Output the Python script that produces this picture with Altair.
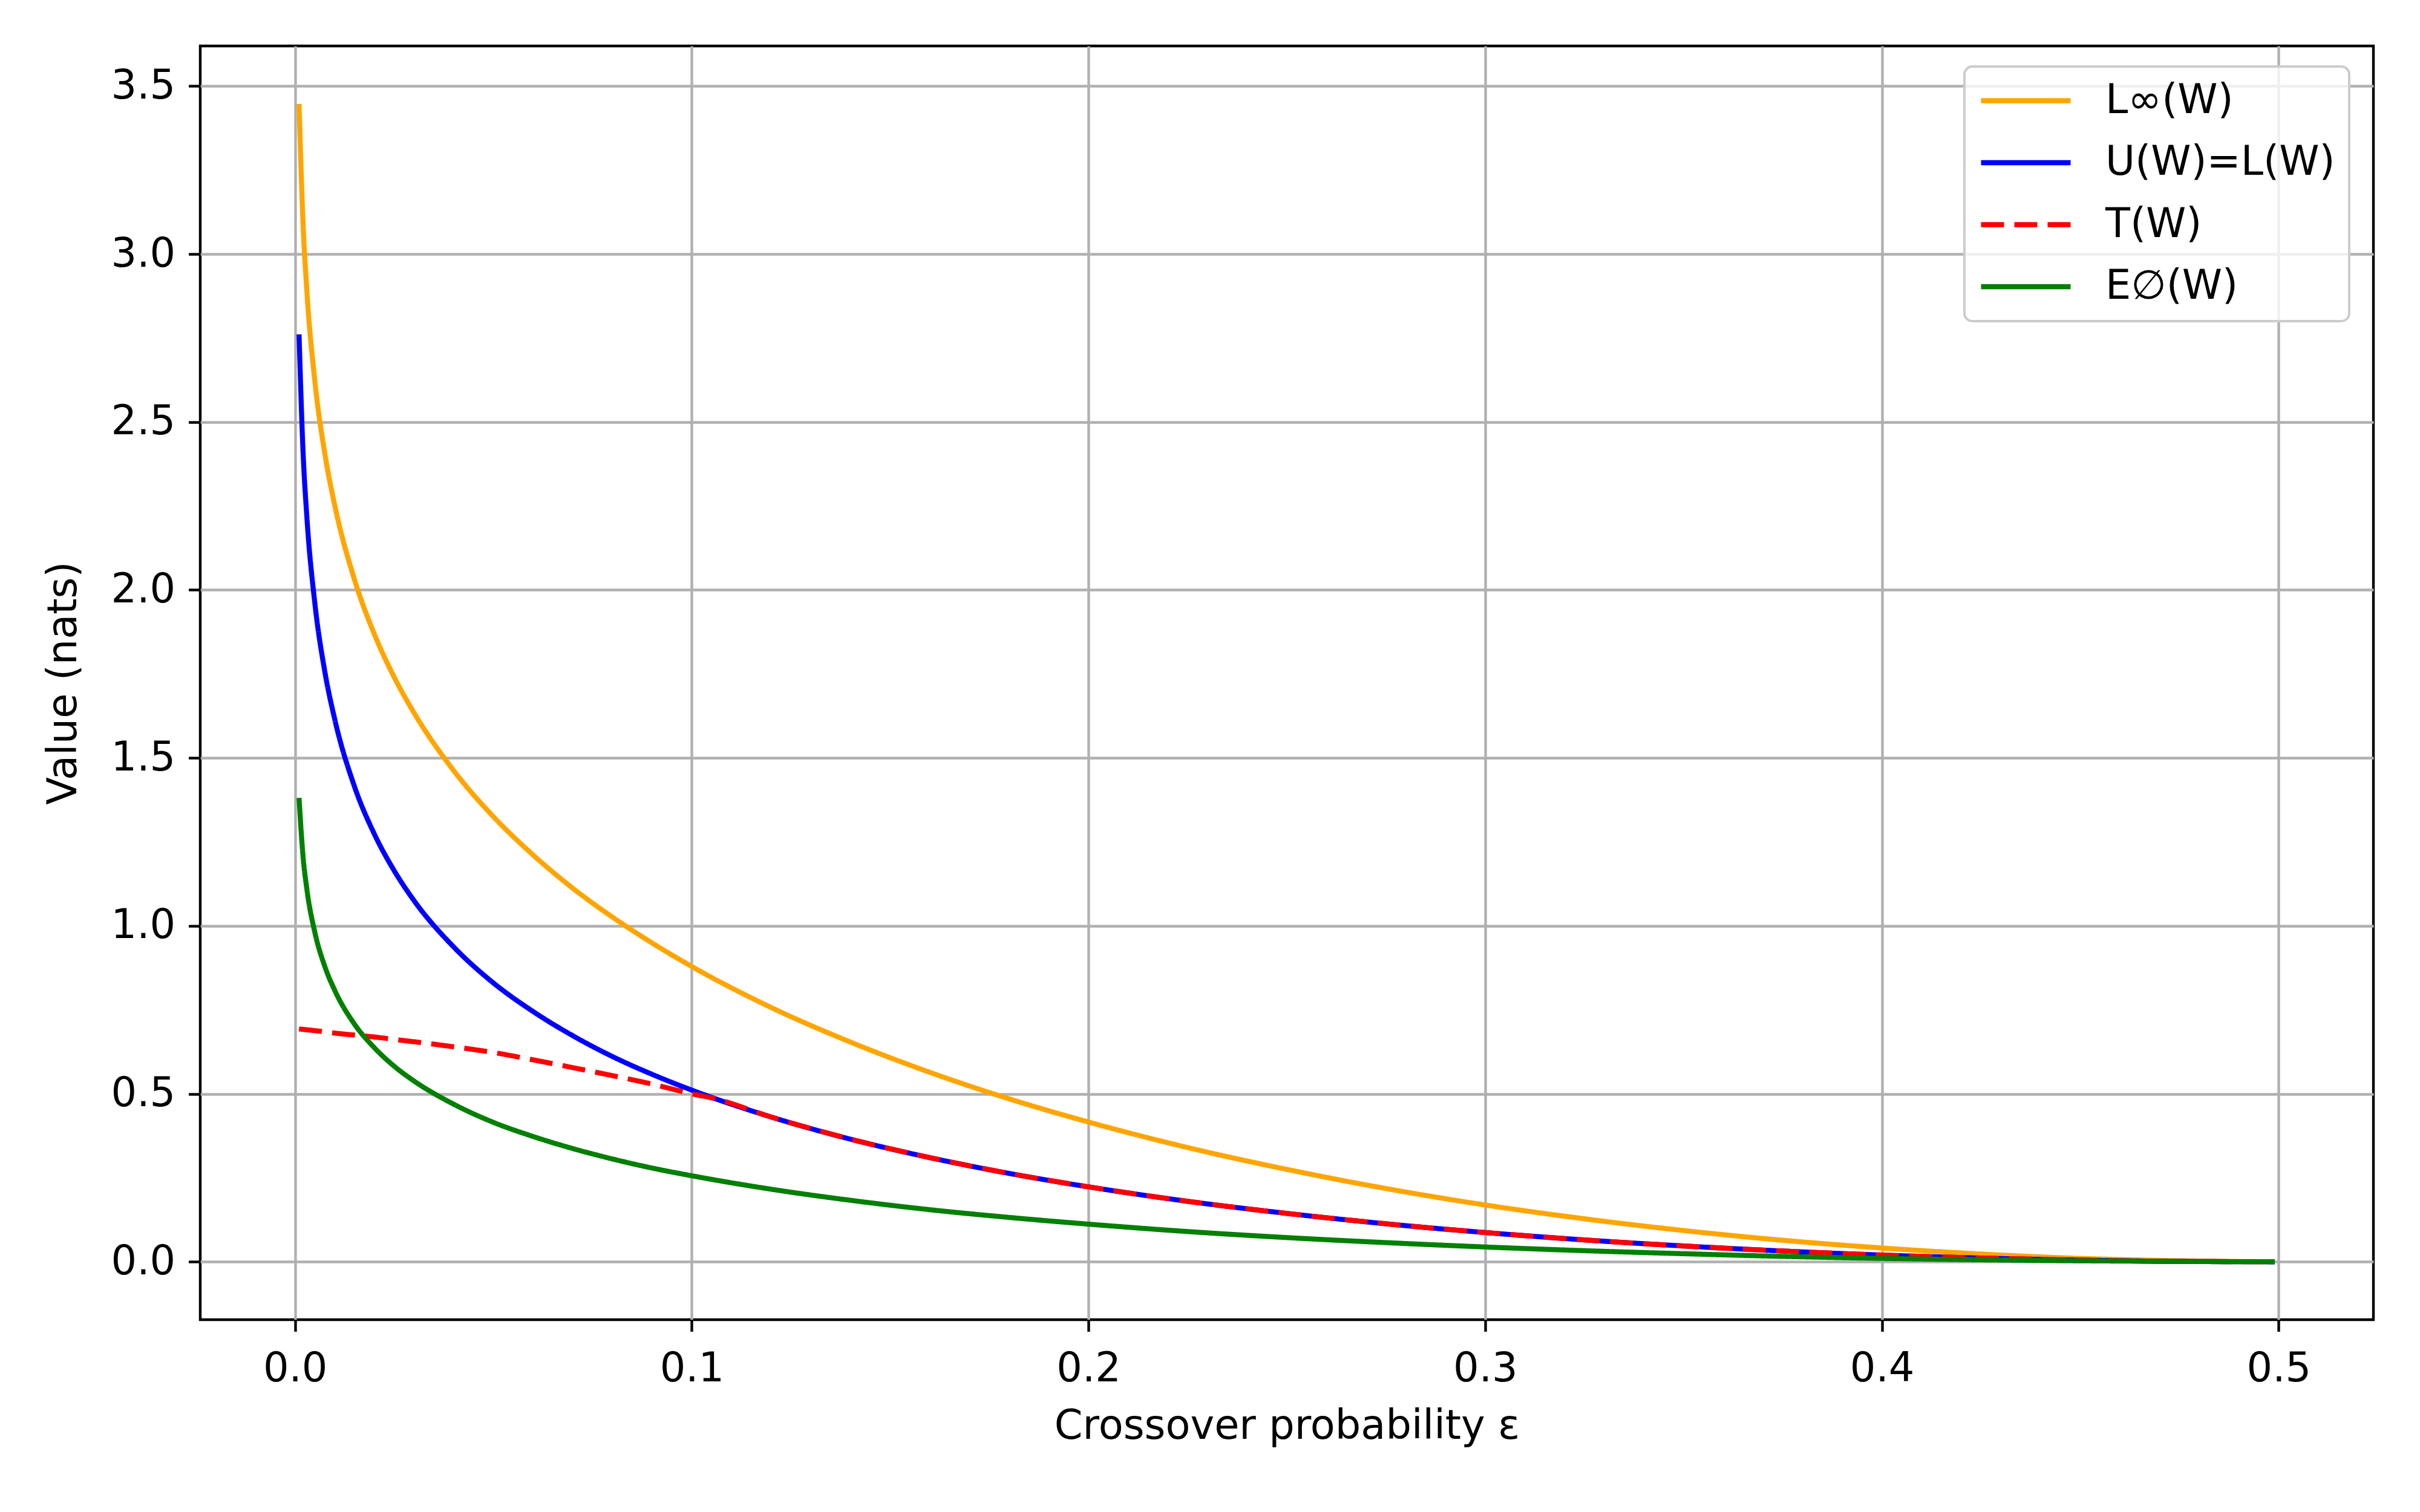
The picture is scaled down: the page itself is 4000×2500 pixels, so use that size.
import altair as alt
import pandas as pd

# ---- data ----
eps = [0.001, 0.002, 0.003, 0.005, 0.0075, 0.01, 0.015, 0.02, 0.025, 0.03,
       0.04, 0.05, 0.06, 0.07, 0.08, 0.09, 0.1, 0.12, 0.14, 0.16, 0.18, 0.2,
       0.225, 0.25, 0.275, 0.3, 0.325, 0.35, 0.375, 0.4, 0.425, 0.45, 0.475, 0.499]
l_inf = [3.447, 3.094, 2.886, 2.620, 2.406, 2.252, 2.030, 1.868, 1.740, 1.634,
         1.462, 1.325, 1.211, 1.112, 1.026, 0.949, 0.879, 0.757, 0.654, 0.564, 0.485, 0.416,
         0.340, 0.275, 0.218, 0.169, 0.128, 0.093, 0.064, 0.041, 0.023, 0.010, 0.003, 0.000]
u_w = [2.761, 2.415, 2.213, 1.959, 1.757, 1.615, 1.414, 1.273, 1.164, 1.075,
       0.937, 0.830, 0.745, 0.673, 0.611, 0.558, 0.511, 0.431, 0.365, 0.310, 0.263, 0.223,
       0.180, 0.144, 0.113, 0.087, 0.065, 0.047, 0.032, 0.020, 0.011, 0.005, 0.001, 0.000]
e_w = [1.381, 1.208, 1.107, 0.980, 0.879, 0.808, 0.707, 0.637, 0.582, 0.538,
       0.469, 0.415, 0.373, 0.337, 0.306, 0.279, 0.256, 0.216, 0.183, 0.155, 0.132, 0.112,
       0.090, 0.072, 0.057, 0.044, 0.033, 0.024, 0.016, 0.010, 0.006, 0.003, 0.001, 0.000]
t_eps = [0.001, 0.005, 0.01, 0.02, 0.03, 0.04, 0.05, 0.06, 0.07, 0.08, 0.09, 0.1, 0.106,
         0.12, 0.14, 0.16, 0.18, 0.2, 0.225, 0.25, 0.275, 0.3, 0.325, 0.35, 0.375, 0.4,
         0.425, 0.45, 0.475, 0.499]
t_w = [0.693, 0.688, 0.681, 0.669, 0.655, 0.640, 0.623, 0.601, 0.578, 0.554, 0.529, 0.500, 0.485,
       0.431, 0.365, 0.310, 0.263, 0.223, 0.180, 0.144, 0.113, 0.087, 0.065, 0.047, 0.032, 0.020,
       0.011, 0.005, 0.001, 0.000]

series_names = ["L∞(W)", "U(W)=L(W)", "T(W)", "E∅(W)"]
series_colors = ["#FFA500", "#0000FF", "#FF0000", "#008000"]
series_dashes = [[1, 0], [1, 0], [38, 17], [1, 0]]
x_ticks = [0.0, 0.1, 0.2, 0.3, 0.4, 0.5]
y_ticks = [0.0, 0.5, 1.0, 1.5, 2.0, 2.5, 3.0, 3.5]

rows = []
for name, xs, ys in [(series_names[0], eps, l_inf), (series_names[1], eps, u_w),
                     (series_names[2], t_eps, t_w), (series_names[3], eps, e_w)]:
    for xv, yv in zip(xs, ys):
        rows.append({"eps": xv, "value": yv, "series": name})
df = pd.DataFrame(rows)

FONT = "DejaVu Sans"
FS = 67

legend = alt.Legend(
    orient="none", legendX=2916, legendY=34, title=None,
    symbolType="stroke", symbolSize=21904, symbolStrokeWidth=8.3,
    labelFont=FONT, labelFontSize=FS, labelColor="black", labelOffset=53,
    labelLimit=2000, clipHeight=67, rowPadding=34.5, padding=23,
    fillColor="rgba(255,255,255,0.8)", strokeColor="#cccccc", cornerRadius=13,
)

x_enc = alt.X(
    "eps:Q",
    scale=alt.Scale(domain=[-0.0239, 0.5239], nice=False, zero=False),
    axis=alt.Axis(values=x_ticks, format=".1f", title="Crossover probability ε",
                  labelBaseline="alphabetic", labelPadding=81.6,
                  titleX=1796, titleY=196, titleBaseline="alphabetic", titleAlign="center"),
)
y_enc = alt.Y(
    "value:Q",
    scale=alt.Scale(domain=[-0.1724, 3.6194], nice=False, zero=False),
    axis=alt.Axis(values=y_ticks, format=".1f", title="Value (nats)",
                  labelPadding=22, titleX=-206, titleY=1053,
                  titleBaseline="alphabetic", titleAlign="center"),
)
color_enc = alt.Color("series:N", scale=alt.Scale(domain=series_names, range=series_colors),
                      legend=legend)
dash_enc = alt.StrokeDash("series:N", scale=alt.Scale(domain=series_names, range=series_dashes),
                          legend=legend)

base = alt.Chart(df).mark_line(strokeWidth=8.3, interpolate="monotone", strokeCap="butt").encode(
    x=x_enc, y=y_enc, color=color_enc, strokeDash=dash_enc
)
layers = [base.transform_filter(alt.datum.series == n) for n in series_names]

chart = alt.layer(*layers).properties(
    width=3592, height=2106,
    padding={"left": 323, "top": 68, "right": 69, "bottom": 310},
    autosize=alt.AutoSizeParams(type="none"),
    background="white",
).configure_view(
    stroke="black", strokeWidth=4.4
).configure_axis(
    grid=True, gridColor="#b0b0b0", gridWidth=4.4, domain=False,
    tickColor="black", tickWidth=4.4, tickSize=19.4,
    labelFont=FONT, labelFontSize=FS, labelColor="black",
    titleFont=FONT, titleFontSize=FS, titleColor="black", titleFontWeight="normal",
).configure_legend(strokeWidth=4)

chart.save("out.html", embed_options={"renderer": "svg", "actions": False})
